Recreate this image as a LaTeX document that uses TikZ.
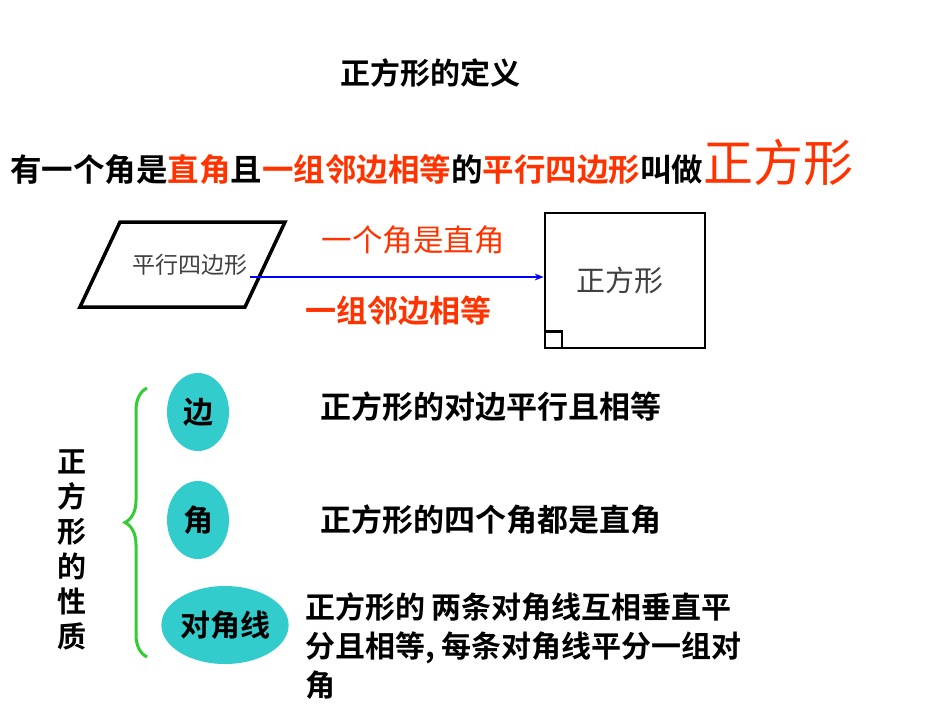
\documentclass[tikz,border=0pt]{standalone}
\usepackage{fontspec}
\setmainfont{Noto Sans CJK SC}
\newfontfamily\cjkb{Noto Sans CJK SC Bold}
\usetikzlibrary{arrows.meta,decorations.pathreplacing,shapes.geometric}
\definecolor{rd}{HTML}{FF3300}
\definecolor{tl}{HTML}{33CCCC}
\definecolor{gr}{HTML}{33CC33}
\tikzset{txt/.style={inner sep=0pt,font=\cjkb\fontsize{31}{34}\selectfont},
  oval/.style={ellipse,fill=tl,inner sep=0pt}}
\begin{document}
\begin{tikzpicture}[x=1pt,y=-1pt]
\useasboundingbox (0,0) rectangle (950,713);
\node[txt,font=\cjkb\fontsize{30}{33}\selectfont] (title) at (430,73) {正方形的定义};
\node[txt,anchor=west,font=\cjkb\fontsize{31.5}{34}\selectfont] (def) at (10,162) {有一个角是\textcolor{rd}{直角}且\textcolor{rd}{一组邻边相等}的\textcolor{rd}{平行四边形}叫做\textcolor{rd}{\normalfont\fontsize{50}{54}\selectfont 正方形}};
\draw[line width=3.5pt,line join=miter] (80,307) -- (120,222) -- (285,222) -- (245,307) -- cycle;
\node[inner sep=0pt,font=\fontsize{23}{25}\selectfont,text=black!75] (pa) at (190,265) {平行四边形};
\coordinate (a1) at (250,277);
\node[draw,line width=2.5pt,minimum width=160pt,minimum height=135pt] (sq) at (625,280.5) {};
\node[inner sep=0pt,font=\fontsize{29}{31}\selectfont,text=black!75] (sqt) at (620,280) {正方形};
\draw[line width=2.5pt] (sq.south west) ++(0,-18) -| ([xshift=18pt]sq.south west);
\draw[blue,line width=2.2pt,-{Stealth[length=9pt]}] (a1) -- (sq.west|-a1);
\node[txt,text=rd,font=\fontsize{30.5}{32}\selectfont] (c1) at (413,240) {一个角是直角};
\node[txt,text=rd] (c2) at (398,311) {一组邻边相等};
\draw[gr,line width=3pt,decorate,decoration={brace,amplitude=22pt,mirror}] (147,388) -- (147,657);
\node[txt,align=center,font=\cjkb\fontsize{29}{35}\selectfont] (prop) at (72,550) {正\\方\\形\\的\\性\\质};
\node[oval,minimum width=62pt,minimum height=78pt,txt,font=\cjkb\fontsize{30}{33}\selectfont] (e1) at (198,412) {边};
\node[oval,minimum width=62pt,minimum height=78pt,txt,font=\cjkb\fontsize{30}{33}\selectfont] (e2) at (198,520) {角};
\node[oval,minimum width=116pt,minimum height=78pt,txt,font=\cjkb\fontsize{30}{33}\selectfont] (e3) at (225,625) {对角线};
\node[txt,anchor=west] (t1) at (320,407) {正方形的对边平行且相等};
\node[txt,anchor=west] (t2) at (320,520) {正方形的四个角都是直角};
\node[txt,anchor=north west,align=left,font=\cjkb\fontsize{30}{39}\selectfont] (t3) at (305,592) {正方形的 两条对角线互相垂直平\\分且相等, 每条对角线平分一组对\\角};
\end{tikzpicture}
\end{document}
